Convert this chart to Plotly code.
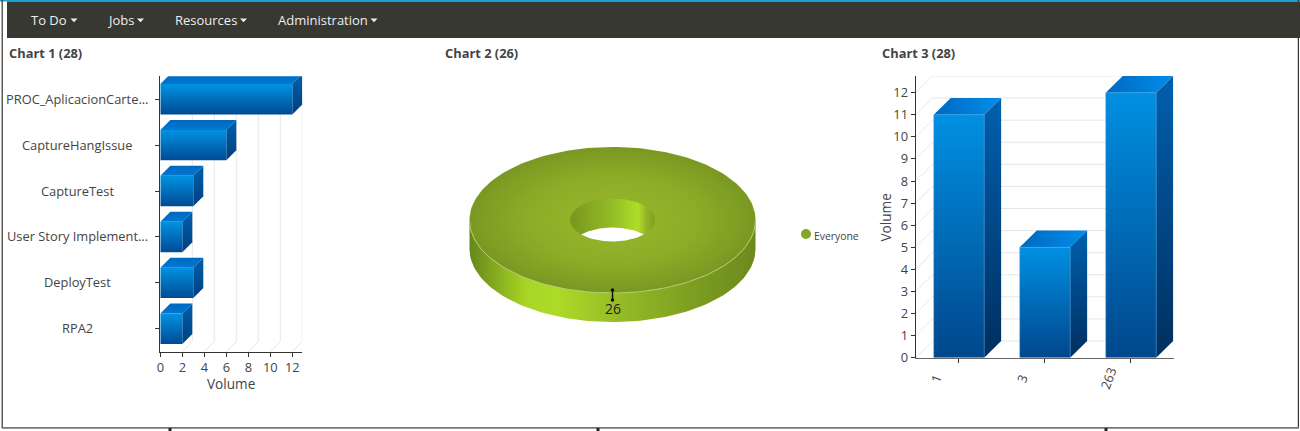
import math
import plotly.graph_objects as go

W, H = 1300, 431

# ---- data ----
chart1_title = "Chart 1 (28)"
chart1_categories = ["PROC_AplicacionCarte...", "CaptureHangIssue", "CaptureTest",
                     "User Story Implement...", "DeployTest", "RPA2"]
chart1_values = [12, 6, 3, 2, 3, 2]
chart1_ticks = [0, 2, 4, 6, 8, 10, 12]

chart2_title = "Chart 2 (26)"
chart2_labels = ["Everyone"]
chart2_values = [26]

chart3_title = "Chart 3 (28)"
chart3_categories = ["1", "3", "263"]
chart3_values = [11, 5, 12]
chart3_ticks = list(range(13))

axis_title = "Volume"
nav_items = ["To Do", "Jobs", "Resources", "Administration"]

# ---- styles ----
FONT = "Open Sans"
TEXT = "#444444"
GRID = "#e6e6e6"
AX = "#333333"
LABEL = 12.85
fig = go.Figure()
shapes, annos = [], []


def px(x):
    return x / W


def py(y):
    return 1 - y / H


def rect(x0, y0, x1, y1, color):
    shapes.append(dict(type="rect", xref="paper", yref="paper", x0=px(x0), x1=px(x1),
                       y0=py(y0), y1=py(y1), fillcolor=color, line_width=0, layer="below"))


def text(x, y, s, size=LABEL, color=TEXT, anchor="left", bold=False, angle=0):
    annos.append(dict(xref="paper", yref="paper", x=px(x), y=py(y), text=f"<b>{s}</b>" if bold else s,
                      showarrow=False, xanchor=anchor, yanchor="middle", textangle=angle,
                      font=dict(family=FONT, size=size, color=color)))


def poly(xs, ys, ax, grad=None, color=None, border=None):
    line = dict(width=1, color=border) if border else dict(width=0)
    tr = dict(x=list(xs) + [xs[0]], y=list(ys) + [ys[0]], mode="lines", line=line,
              fill="toself", hoverinfo="skip", showlegend=False, xaxis=ax[0], yaxis=ax[1])
    if grad:
        tr["fillgradient"] = grad
    else:
        tr["fillcolor"] = color
    fig.add_trace(go.Scatter(**tr))


def vgrad(bottom, top):
    return dict(type="vertical", colorscale=[[0, bottom], [1, top]])


def hgrad(left, right):
    return dict(type="horizontal", colorscale=[[0, left], [1, right]])


# ---- page chrome ----
rect(0, 0, W, 1.4, "#1b9fd0")
rect(1.6, 0, 2.8, 428, "#333333")
rect(1297.8, 0, 1299, 428, "#333333")
rect(1.6, 427, 1299, 428.8, "#777777")
rect(7, 1.4, W, 38, "#373831")
for x in (170, 598, 1106):
    rect(x - 1.5, 428, x + 1.5, 431, "#222222")
for s, x, cx in zip(nav_items, (31, 107, 175, 278), (74, 140.5, 243.5, 374)):
    text(x - 2, 19.7, s, size=13, color="#eeeeee")
    shapes.append(dict(type="path", xref="paper", yref="paper", line_width=0, fillcolor="#eeeeee",
                       path=f"M{px(cx-3.5)},{py(18.6)} L{px(cx+3.5)},{py(18.6)} L{px(cx)},{py(22.2)} Z"))
for s, x in ((chart1_title, 9), (chart2_title, 445), (chart3_title, 882)):
    text(x - 2, 53.5, s, bold=True)

# ---- chart 1: horizontal 3D bars ----
c1 = ("x", "y")
X0, X1, Y0, Y1 = 160.3, 302.3, 76.3, 351.7
ux1 = 11.0                   # px per unit
band = (Y1 - Y0) / len(chart1_categories)
dx, dy = 10 / ux1, 10 / band
bh = 30.4 / band / 2
ybase = len(chart1_categories) - 0.5
for t in chart1_ticks[1:]:
    fig.add_trace(go.Scatter(x=[t, t + dx, t + dx], y=[ybase, ybase - dy, -0.5], mode="lines",
                             line=dict(color=GRID, width=1), hoverinfo="skip", showlegend=False,
                             xaxis="x", yaxis="y"))
for i, v in enumerate(chart1_values):
    top, bot = i - bh, i + bh
    poly([0, dx, v + dx, v], [top, top - dy, top - dy, top], c1, vgrad("#0078d2", "#0068c0"))
    poly([v, v + dx, v + dx, v], [top, top - dy, bot - dy, bot], c1, vgrad("#003f80", "#0060ac"))
    poly([0, v, v, 0], [top, top, bot, bot], c1, vgrad("#004b93", "#0092e2"))
for i, s in enumerate(chart1_categories):
    annos.append(dict(xref="paper", yref="y", x=px(77.3), y=i, text=s, showarrow=False, xanchor="center",
                      yanchor="middle", yshift=0.5, font=dict(family=FONT, size=LABEL, color=TEXT)))
text(230.5, 383.5, axis_title, size=13.6, anchor="center")

# ---- chart 2: 3D doughnut ----
c2 = ("x2", "y2")
CX, CY, RX, RY = 612.5, 220, 143, 73
HX, HY, TH = 42.5, 21.5, 29
share = [v / sum(chart2_values) for v in chart2_values]
N = 181
ang = [2 * math.pi * share[0] * k / (N - 1) for k in range(N)]
ell = lambda a, b, cy: ([CX + a * math.cos(t) for t in ang], [cy + b * math.sin(t) for t in ang])

front = [t * math.pi / 90 for t in range(0, 91)]
wall_x = [CX + RX * math.cos(t) for t in front]
wall_x = wall_x + wall_x[::-1]
wall_y = [CY + RY * math.sin(t) + TH for t in front] + [CY + RY * math.sin(t) for t in front[::-1]]
wall_grad = dict(type="horizontal", colorscale=[[0, "#66871b"], [0.2, "#a9d625"], [0.3, "#aeda28"],
                                                [0.55, "#93b826"], [0.8, "#7a9c20"], [1, "#6c8a1c"]])
poly(wall_x, wall_y, c2, wall_grad)
ex, ey = ell(RX, RY, CY)
poly(ex, ey, c2, dict(type="radial", colorscale=[[0, "#96b82a"], [0.6, "#8cac27"], [1, "#7a9822"]]))
# light rim along the front edge
fig.add_trace(go.Scatter(x=[CX + RX * math.cos(t) for t in front], y=[CY + RY * math.sin(t) for t in front],
                         mode="lines", line=dict(color="#b4cc70", width=1), hoverinfo="skip",
                         showlegend=False, xaxis="x2", yaxis="y2"))
hx, hy = ell(HX, HY, CY)
poly(hx, hy, c2, dict(type="horizontal", colorscale=[[0, "#78961f"], [0.5, "#94bc26"], [0.8, "#b0de28"],
                                                     [0.9, "#93b525"], [1, "#7d9c21"]]))
# opening seen through the hole: lens between rim and the lower rim
s0 = TH / (2 * HY)
xl = HX * math.sqrt(max(0, 1 - s0 * s0))
lens_t = [-xl + 2 * xl * k / 60 for k in range(61)]
lx = [CX + t for t in lens_t] + [CX + t for t in lens_t[::-1]]
ly = [CY + TH - HY * math.sqrt(1 - (t / HX) ** 2) for t in lens_t] + \
     [CY + HY * math.sqrt(1 - (t / HX) ** 2) for t in lens_t[::-1]]
poly(lx, ly, c2, color="#ffffff")
fig.add_trace(go.Scatter(x=[CX, CX], y=[CY + RY - 3, CY + RY + 7], mode="lines+markers",
                         line=dict(color="#111111", width=1.5), marker=dict(color="#111111", size=3.5),
                         hoverinfo="skip", showlegend=False, xaxis="x2", yaxis="y2"))
annos.append(dict(xref="x2", yref="y2", x=CX, y=CY + RY + 15.5, text=str(chart2_values[0]), showarrow=False,
                  xanchor="center", yanchor="middle", font=dict(family=FONT, size=14, color="#222222")))
fig.add_trace(go.Scatter(x=[806], y=[234], mode="markers", name=chart2_labels[0], showlegend=False,
                         hoverinfo="skip", marker=dict(color="#85a626", size=10), xaxis="x2", yaxis="y2"))
annos.append(dict(xref="x2", yref="y2", x=811.5, y=235.5, text=chart2_labels[0], showarrow=False,
                  xanchor="left", yanchor="middle", font=dict(family=FONT, size=10.4, color=TEXT)))

# ---- chart 3: vertical 3D bars ----
c3 = ("x3", "y3")
A0, A1, B0, B1 = 915.6, 1173.6, 76, 357.7
uy = 22.08
bandx = (A1 - A0) / len(chart3_categories)
ddx, ddy = 17 / bandx, 16.7 / uy
bw = 50.4 / bandx / 2
for t in chart3_ticks:
    fig.add_trace(go.Scatter(x=[-0.5, -0.5 + ddx, 2.5], y=[t, t + ddy, t + ddy], mode="lines",
                             line=dict(color=GRID, width=1), hoverinfo="skip", showlegend=False,
                             xaxis="x3", yaxis="y3"))
for i, v in enumerate(chart3_values):
    l, r = i - bw + 0.004, i + bw + 0.004
    poly([l, l + ddx, r + ddx, r], [v, v + ddy, v + ddy, v], c3, hgrad("#0068c0", "#008eea"))
    poly([r, r + ddx, r + ddx, r], [v, v + ddy, ddy, 0], c3, vgrad("#002f60", "#0060ae"))
    poly([l, r, r, l], [v, v, 0, 0], c3, vgrad("#00478c", "#0090e2"), border="rgba(70,170,235,0.45)")
for i, s in enumerate(chart3_categories):
    annos.append(dict(xref="x3", yref="paper", x=i, y=py(378.5), text=s, showarrow=False, xshift=-23,
                      xanchor="center", yanchor="middle", textangle=-70,
                      font=dict(family=FONT, size=LABEL, color=TEXT)))
text(885, 217.5, axis_title, size=13.6, anchor="center", angle=-90)

# ---- axes ----
tickfont = dict(family=FONT, size=LABEL, color=TEXT)
common = dict(showgrid=False, zeroline=False, showline=True, linecolor=AX, linewidth=1,
              ticks="outside", ticklen=4, tickcolor=AX, tickwidth=1, tickfont=tickfont, fixedrange=True)
layout = dict(
    width=W, height=H, margin=dict(l=0, r=0, t=0, b=0, pad=0, autoexpand=False), autosize=False,
    paper_bgcolor="white", plot_bgcolor="rgba(0,0,0,0)", shapes=shapes, annotations=annos,
    showlegend=False, font=dict(family=FONT, color=TEXT),
    xaxis=dict(common, domain=[px(X0), px(X1)], range=[0, (X1 - X0) / ux1], tickmode="array",
               tickvals=chart1_ticks, anchor="y", linecolor="#333333", tickangle=0),
    yaxis=dict(common, domain=[py(Y1), py(Y0)], range=[ybase, -0.5], tickmode="array",
               tickvals=list(range(len(chart1_categories))), ticktext=[""] * len(chart1_categories), anchor="x"),
    xaxis2=dict(domain=[px(440), px(870)], range=[440, 870], visible=False, anchor="y2", fixedrange=True),
    yaxis2=dict(domain=[py(340), py(130)], range=[340, 130], visible=False, anchor="x2", fixedrange=True),
    xaxis3=dict(common, domain=[px(A0), px(A1)], range=[-0.5, 2.5], tickmode="array",
                tickvals=list(range(len(chart3_categories))), ticktext=[""] * len(chart3_categories),
                anchor="y3", linecolor="#666666"),
    yaxis3=dict(common, domain=[py(B1), py(B0)], range=[0, (B1 - B0) / uy], tickmode="array",
                tickvals=chart3_ticks, anchor="x3"),
)
fig.update_layout(**layout)
fig.write_html("out.html", config={"displayModeBar": False},
               post_script="document.body.style.margin='0';document.body.style.overflow='hidden';")
